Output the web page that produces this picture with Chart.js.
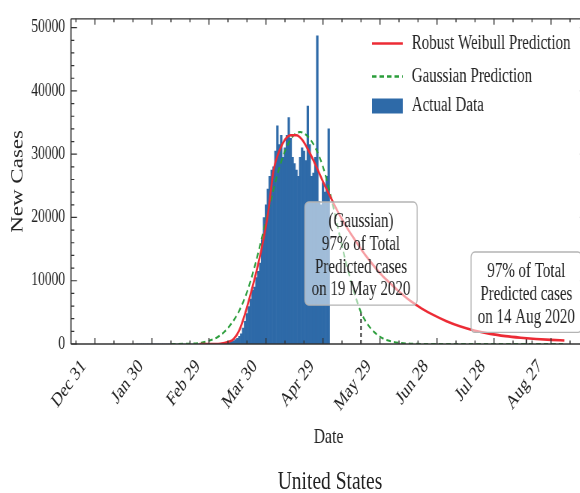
<!DOCTYPE html>
<html><head><meta charset="utf-8">
<script src="https://cdn.jsdelivr.net/npm/chart.js@4"></script>
<style>
html,body{margin:0;padding:0;background:#fff;overflow:hidden;width:580px;height:493px;}
#wrap{position:absolute;left:0;top:0;width:800px;height:493px;transform:scaleX(0.75);transform-origin:0 0;}
#c{position:absolute;left:0;top:0;}
#cap{position:absolute;left:40px;top:466px;width:800px;text-align:center;font-family:"Liberation Serif","Times New Roman",serif;font-size:26px;line-height:30px;color:#222;}
</style></head>
<body>
<div id="wrap"><canvas id="c" width="800" height="460"></canvas><div id="cap">United States</div></div>
<script>
// ---- data (x = days since 31 Dec 2019) ----
const xTickDays = [0, 30, 60, 90, 120, 150, 180, 210, 240];
const xTickLabels = ['Dec 31', 'Jan 30', 'Feb 29', 'Mar 30', 'Apr 29', 'May 29', 'Jun 28', 'Jul 28', 'Aug 27'];
const yTicks = [0, 10000, 20000, 30000, 40000, 50000];
const xMin = -12.6, xMax = 258.4, yMin = 0, yMax = 51400;

const actualStartDay = 22; // 22 Jan 2020
const actualCases = [
  1,0,1,0,3,0,0,0,0,1,1,0,3,0,0,0,0,0,1,0,0,0,1,0,0,0,0,0,0,0,0,21,0,0,0,6,1,3,
  10,20,20,30,50,60,80,100,120,150,
  200,300,400,500,700,900,1200,1600,2500,3600,
  4800,5900,7100,8500,9000,10500,11500,12800,16500,20000,
  22000,24500,26500,27500,28000,30500,34500,31500,33000,29500,
  31000,33000,35800,32500,29500,28500,27500,26500,29500,31000,
  30500,29000,37600,31500,26500,27000,29500,48700,22500,22000,
  25500,24000,26500,34000
];

const weibullDays = [55,60,66,70,73,76,79,82,85,88,91,94,97,100,103,106,109,112,115,118,121,124,128,132,136,140,145,150,155,160,166,172,178,185,192,200,208,216,224,232,240,247];
const weibullCases = [0,0,50,300,800,2200,4800,8000,11500,15500,20500,27500,30500,32300,33000,33000,32300,30800,29000,27000,25000,23200,20800,18700,16800,15000,13000,11200,9700,8300,6800,5600,4600,3600,2800,2100,1600,1250,1000,800,650,550];

const gaussDays = [40,50,56,60,64,68,72,76,80,84,88,92,96,100,104,108,112,116,120,124,128,132,136,140,144,148,152,156,160,166,175,200,247];
const gaussCases = [0,50,200,500,1000,1900,3300,5300,8200,12200,17000,22000,26800,30500,32800,33500,32800,31000,28000,23500,18200,13000,8600,5000,2900,1600,800,400,180,50,0,0,0];

const markerDays = [140, 227];      // 19 May 2020, 14 Aug 2020
const markerCases = [5000, 950];

const seriesLabels = ['Robust Weibull Prediction', 'Gaussian Prediction', 'Actual Data'];
const box1Lines = ['(Gaussian)', '97% of Total', 'Predicted cases', 'on 19 May 2020'];
const box2Lines = ['97% of Total', 'Predicted cases', 'on 14 Aug 2020'];
const xTitle = 'Date', yTitle = 'New Cases';

// ---- styles ----
const SERIF = '"Liberation Serif","Times New Roman",serif';
const RED = '#ec2b35', GREEN = '#2a9d3a', BLUE = '#2e6aa8', INK = '#222';
const xMinorStep = 10, yMinorStep = 2000;

const decor = {
  id: 'decor',
  afterDatasetsDraw(chart) {
    const {ctx, chartArea: a, scales: {x, y}} = chart;
    ctx.save();
    ctx.strokeStyle = '#333';
    ctx.lineWidth = 1.3;
    ctx.beginPath();
    ctx.moveTo(a.left, a.top); ctx.lineTo(a.right, a.top);
    ctx.moveTo(a.left, a.bottom); ctx.lineTo(a.right, a.bottom);
    ctx.stroke();
    ctx.lineWidth = 1.6;
    ctx.beginPath();
    ctx.moveTo(a.left, a.top); ctx.lineTo(a.left, a.bottom);
    ctx.moveTo(a.right, a.top); ctx.lineTo(a.right, a.bottom);
    ctx.stroke();
    ctx.lineWidth = 1.4;
    ctx.beginPath();
    for (let d = -10; d <= xMax; d += xMinorStep) {
      const px = x.getPixelForValue(d);
      const L = xTickDays.includes(d) ? 6 : 3.5;
      ctx.moveTo(px, a.bottom); ctx.lineTo(px, a.bottom - L);
      ctx.moveTo(px, a.top); ctx.lineTo(px, a.top + L);
    }
    ctx.stroke();
    ctx.lineWidth = 1.2;
    ctx.beginPath();
    for (let v = 0; v <= yMax; v += yMinorStep) {
      const py = y.getPixelForValue(v);
      const L = yTicks.includes(v) ? 8 : 4.5;
      ctx.moveTo(a.left, py); ctx.lineTo(a.left + L, py);
      ctx.moveTo(a.right, py); ctx.lineTo(a.right - L, py);
    }
    ctx.stroke();
    ctx.restore();
  },
  afterDraw(chart) {
    const {ctx, scales: {x}} = chart;
    ctx.save();
    ctx.font = '20px ' + SERIF;
    ctx.textAlign = 'center';
    ctx.textBaseline = 'middle';
    const drawBox = (cx, lines, firstY, gap) => {
      const w = Math.max(...lines.map(t => ctx.measureText(t).width)) + 18;
      const top = firstY - 20, bottom = firstY + gap * (lines.length - 1) + 15;
      ctx.beginPath();
      ctx.roundRect(cx - w / 2, top, w, bottom - top, 5);
      ctx.fillStyle = 'rgba(255,255,255,0.55)';
      ctx.fill();
      ctx.strokeStyle = '#b4b4b4';
      ctx.lineWidth = 1.3;
      ctx.stroke();
      ctx.fillStyle = INK;
      lines.forEach((t, i) => ctx.fillText(t, cx, firstY + i * gap));
    };
    drawBox(x.getPixelForValue(markerDays[0]), box1Lines, 222, 22.7);
    drawBox(x.getPixelForValue(markerDays[1]), box2Lines, 272, 22.7);

    const hx0 = 496, hx1 = 537, tx = 549, rows = [43.5, 76.5, 106];
    ctx.lineWidth = 2.5;
    ctx.strokeStyle = RED;
    ctx.beginPath(); ctx.moveTo(hx0, rows[0]); ctx.lineTo(hx1, rows[0]); ctx.stroke();
    ctx.strokeStyle = GREEN;
    ctx.setLineDash([6, 4]);
    ctx.beginPath(); ctx.moveTo(hx0, rows[1]); ctx.lineTo(hx1, rows[1]); ctx.stroke();
    ctx.setLineDash([]);
    ctx.fillStyle = BLUE;
    ctx.fillRect(hx0, rows[2] - 7.5, hx1 - hx0, 15);
    ctx.fillStyle = INK;
    ctx.textAlign = 'left';
    seriesLabels.forEach((t, i) => ctx.fillText(t, tx, rows[i]));
    ctx.restore();
  }
};

const pts = (xs, ys) => xs.map((d, i) => ({x: d, y: ys[i]}));

new Chart(document.getElementById('c'), {
  type: 'line',
  data: {
    datasets: [
      {label: seriesLabels[0], data: pts(weibullDays, weibullCases), borderColor: RED, borderWidth: 2.6,
       pointRadius: 0, cubicInterpolationMode: 'monotone', fill: false},
      {label: seriesLabels[1], data: pts(gaussDays, gaussCases), borderColor: GREEN, borderWidth: 2.1,
       borderDash: [6, 4], pointRadius: 0, cubicInterpolationMode: 'monotone', fill: false},
      {label: 'm1', data: pts([markerDays[0], markerDays[0]], [0, markerCases[0]]), borderColor: '#111',
       borderWidth: 1.8, borderDash: [4, 3], pointRadius: 0},
      {label: 'm2', data: pts([markerDays[1], markerDays[1]], [0, markerCases[1]]), borderColor: '#111',
       borderWidth: 1.8, pointRadius: 0},
      {type: 'bar', label: seriesLabels[2], data: actualCases.map((v, i) => ({x: actualStartDay + i, y: v})),
       backgroundColor: BLUE, borderWidth: 0, barPercentage: 1, categoryPercentage: 1}
    ]
  },
  options: {
    responsive: false, animation: false, devicePixelRatio: 1,
    layout: {padding: {left: 0, top: 15, right: 800 - 781.33, bottom: 0}},
    plugins: {legend: {display: false}, tooltip: {enabled: false}},
    scales: {
      x: {
        type: 'linear', min: xMin, max: xMax, offset: false, bounds: 'data',
        grid: {display: false, drawTicks: false}, border: {display: false},
        afterBuildTicks: s => { s.ticks = xTickDays.map(v => ({value: v})); },
        afterFit: s => { s.height = 116; },
        ticks: {autoSkip: false, minRotation: 47, maxRotation: 47, padding: 11, labelOffset: -15,
                color: INK, font: {family: SERIF, size: 20},
                callback: v => { const i = xTickDays.indexOf(v); return i >= 0 ? xTickLabels[i] : ''; }},
        title: {display: true, text: xTitle, color: INK, font: {family: SERIF, size: 21}, padding: {top: 0, bottom: 10.4}}
      },
      y: {
        type: 'linear', min: yMin, max: yMax, bounds: 'data',
        grid: {display: false, drawTicks: false}, border: {display: false},
        afterBuildTicks: s => { s.ticks = yTicks.map(v => ({value: v})); },
        afterFit: s => { s.width = 94.67; },
        ticks: {padding: 8, color: INK, font: {family: SERIF, size: 18}, callback: v => String(v)},
        title: {display: true, text: yTitle, color: INK, font: {family: SERIF, size: 23}, padding: {top: 10, bottom: 0}}
      }
    }
  },
  plugins: [decor]
});
</script>
</body></html>
